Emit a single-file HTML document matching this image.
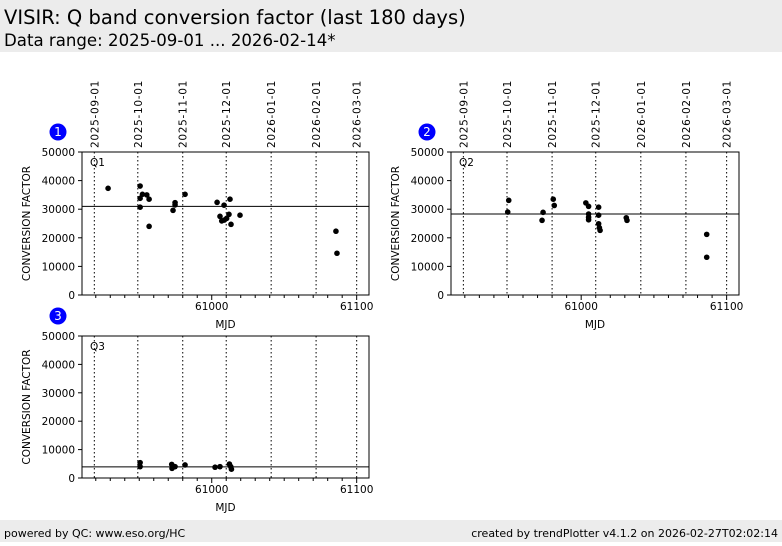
<!DOCTYPE html>
<html><head><meta charset="utf-8"><style>
body{margin:0;width:782px;height:542px;overflow:hidden;background:#fff;font-family:"DejaVu Sans","Liberation Sans",sans-serif}
</style></head><body>
<svg id="s" width="782" height="542" xmlns="http://www.w3.org/2000/svg">
<rect x="0" y="0" width="782" height="52" fill="#ececec"/>
<text x="4" y="24" font-size="19.5">VISIR: Q band conversion factor (last 180 days)</text>
<text x="4" y="46" font-size="16.6">Data range: 2025-09-01 ... 2026-02-14*</text>
<rect x="0" y="520" width="782" height="22" fill="#ececec"/>
<text x="4" y="537" font-size="11">powered by QC: www.eso.org/HC</text>
<text x="778" y="537" font-size="11" text-anchor="end">created by trendPlotter v4.1.2 on 2026-02-27T02:02:14</text>
</svg>
<script>
const dateLabels=["2025-09-01","2025-10-01","2025-11-01","2025-12-01","2026-01-01","2026-02-01","2026-03-01"];
const dateMjd=[60919,60949,60980,61010,61041,61072,61100];
const yTicks=[0,10000,20000,30000,40000,50000];
const xTicks=[61000,61100];
const q1Mjd=[60928.5,60950.6,60950.6,60952.2,60955.2,60956.8,60950.6,60956.8,60973.3,60974.7,60974.7,60981.6,61003.7,61008.5,61012.6,61005.7,61006.9,61008.7,61010.3,61011.9,61013.3,61019.5,61085.7,61086.4];
const q1Val=[37300,38100,33800,35200,35000,33500,30700,24000,29600,32300,31500,35200,32400,31400,33500,27500,25900,26200,26800,28200,24700,27900,22300,14600];
const q1Ref=31000;
const q2Mjd=[60950.2,60949.5,60973.8,60973.1,60980.8,60981.5,61003.2,61005.1,61005.1,61005.1,61005.1,61012,61012,61012,61012.5,61013,61031,61031.5,61086.3,61086.3];
const q2Val=[33100,29000,28900,26100,33500,31300,32200,31000,28300,27200,26300,30700,27900,24900,23500,22600,27000,26100,21200,13200];
const q2Ref=28300;
const q3Mjd=[60950.6,60950.6,60972.4,60972.6,60974.7,60981.6,61002.3,61005.7,61012.2,61013.1,61013.6];
const q3Val=[5400,4000,4800,3400,4000,4600,3800,4000,4900,4000,3100];
const q3Ref=3900;
const NS="http://www.w3.org/2000/svg";
const svg=document.getElementById('s');
function el(t,a,p){const e=document.createElementNS(NS,t);for(const k in a)e.setAttribute(k,a[k]);(p||svg).appendChild(e);return e;}
function panel(n,L,T,W,H,mjd,val,ref){
 const g=el('g',{});
 
 
 const x0=60910.5,x1=61108.5;
 const X=m=>L+(m-x0)/(x1-x0)*W, Y=v=>T+H-v/50000*H;
 dateMjd.forEach((m,i)=>{
  const l=el('line',{x1:X(m),x2:X(m),y1:T,y2:T+H,stroke:'#000','stroke-width':1,'stroke-dasharray':'1.5,2.5'},g);
  
  
  if(n<3){const t=el('text',{x:0,y:0,'font-size':10.5,'letter-spacing':'0.7',transform:`translate(${X(m)+4},${T-4}) rotate(-90)`},g);
   t.textContent=dateLabels[i];
   
   }
 });
 for(let m=60920;m<=61100;m+=10){const major=m%100==0;el('line',{x1:X(m),x2:X(m),y1:T+H,y2:T+H+(major?5:3),stroke:'#000'},g);}
 xTicks.forEach(m=>{const t=el('text',{x:X(m),y:T+H+15,'font-size':10.5,'text-anchor':'middle'},g);t.textContent=m;
  });
 yTicks.forEach(v=>{el('line',{x1:L-4,x2:L,y1:Y(v),y2:Y(v),stroke:'#000'},g);
  const t=el('text',{x:L-7,y:Y(v)+4,'font-size':10.5,'text-anchor':'end'},g);t.textContent=v;
  });
 const r=el('line',{x1:L,x2:L+W,y1:Y(ref),y2:Y(ref),stroke:'#000','stroke-width':1},g);
 
 
 mjd.forEach((m,i)=>{const c=el('circle',{cx:X(m),cy:Y(val[i]),r:2.8,fill:'#000'},g);
  
  });
 const b=el('rect',{x:L,y:T,width:W,height:H,fill:'none',stroke:'#000','stroke-width':1},g);
 
 
 const q=el('text',{x:L+8,y:T+14,'font-size':10.5},g);q.textContent='Q'+n;
 
 const xl=el('text',{x:L+W/2,y:T+H+33,'font-size':10.5,'text-anchor':'middle'},g);xl.textContent='MJD';
 
 const yl=el('text',{x:0,y:0,'font-size':10.5,'text-anchor':'middle',transform:`translate(${L-52},${T+H/2}) rotate(-90)`},g);yl.textContent='CONVERSION FACTOR';
 
 const bc=el('circle',{cx:L-24,cy:T-20,r:8.5,fill:'#0000ff'},g);
 
 const bt=el('text',{x:L-24,y:T-16,'font-size':12,fill:'#fff','text-anchor':'middle'},g);bt.textContent=n;
 
}
panel(1,82,152,287,143,q1Mjd,q1Val,q1Ref);
panel(2,451,152,288,143,q2Mjd,q2Val,q2Ref);
panel(3,82,336,287,142,q3Mjd,q3Val,q3Ref);
</script>
</body></html>
